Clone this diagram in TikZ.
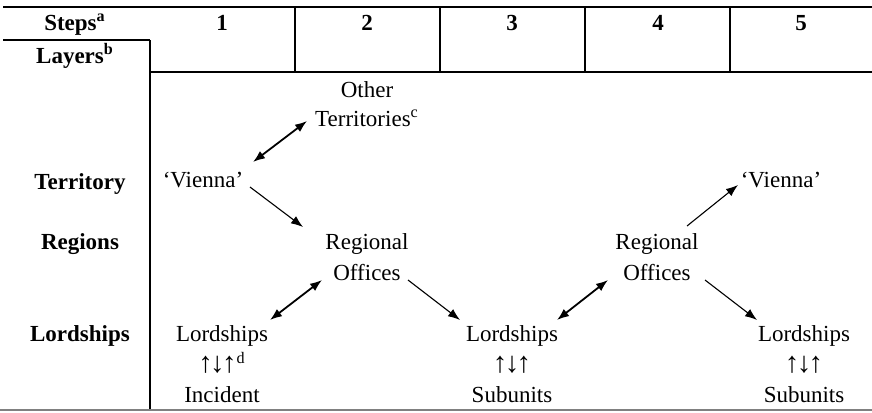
\documentclass[tikz,border=0pt]{standalone}
\usepackage{fontspec}
\setmainfont{Liberation Serif}
\usetikzlibrary{arrows.meta,calc}
\newcommand{\uduarrows}{{\fontsize{14.5}{15}\selectfont ↑\kern-1.3pt↓\kern-1.3pt↑}}
\begin{document}
\begin{tikzpicture}[x=0.5pt,y=-0.5pt,
  txt/.style={inner sep=0pt,anchor=base,font=\fontsize{11.5}{15}\selectfont},
  hdr/.style={txt,font=\fontsize{11.5}{15}\selectfont\bfseries},
  rule/.style={line width=1pt},
  one/.style={line width=0.55pt,-{Latex[length=6pt,width=4.5pt]}},
  two/.style={line width=0.9pt,{Latex[length=6pt,width=4.5pt]}-{Latex[length=6pt,width=4.5pt]}}]
\useasboundingbox (0,0) rectangle (872,412);
% table rules
\draw[rule] (3,7) -- (872,7);
\draw[rule] (3,40) -- (150,40);
\draw[rule] (150,40) -- (150,410);
\draw[rule] (150,72) -- (872,72);
\foreach \x in {295,440,585,730} \draw[rule] (\x,7) -- (\x,72);
\draw[line width=0.8pt,black!50] (0,410) -- (872,410);
% header
\node[hdr] (steps) at (75,30) {Steps\textsuperscript{a}};
\node[hdr] (layers) at (75,63) {Layers\textsuperscript{b}};
\node[hdr] (h1) at (222,30) {1};
\node[hdr] (h2) at (367,30) {2};
\node[hdr] (h3) at (512,30) {3};
\node[hdr] (h4) at (658,30) {4};
\node[hdr] (h5) at (801,30) {5};
% row labels
\node[hdr] (territory) at (80,189) {Territory};
\node[hdr] (regions) at (80,249) {Regions};
\node[hdr] (lordshipsrow) at (80,341) {Lordships};
% body
\node[txt] (other) at (367,97) {Other};
\node[txt] (terr) at (367,126) {Territories\textsuperscript{c}};
\node[txt] (v1) at (203,187) {`Vienna'};
\node[txt] (reg2) at (367,249) {Regional};
\node[txt] (off2) at (367,280) {Offices};
\node[txt] (lord1) at (222,341) {Lordships};
\node[txt] (arr1) at (222,372) {\uduarrows\textsuperscript{d}};
\node[txt] (inc1) at (222,402) {Incident};
\node[txt] (lord3) at (512,341) {Lordships};
\node[txt] (arr3) at (512,372) {\uduarrows};
\node[txt] (sub3) at (512,402) {Subunits};
\node[txt] (reg4) at (657,249) {Regional};
\node[txt] (off4) at (657,280) {Offices};
\node[txt] (v5) at (781,187) {`Vienna'};
\node[txt] (lord5) at (804,341) {Lordships};
\node[txt] (arr5) at (804,372) {\uduarrows};
\node[txt] (sub5) at (804,402) {Subunits};
% connectors
\draw[two] ($(v1.base)+(50,-25)$) -- ($(terr.base)+(-60,-5)$);
\draw[one] ($(v1.base)+(47,0)$) -- ($(reg2.base)+(-64,-22)$);
\draw[two] ($(lord1.base)+(48,-21)$) -- ($(off2.base)+(-45,0)$);
\draw[one] ($(off2.base)+(41,0)$) -- ($(lord3.base)+(-52,-21)$);
\draw[two] ($(lord3.base)+(45,-21)$) -- ($(off4.base)+(-49,0)$);
\draw[one] ($(off4.base)+(48,0)$) -- ($(lord5.base)+(-47,-21)$);
\draw[one] ($(reg4.base)+(30,-23)$) -- ($(v5.base)+(-43,-2)$);
\end{tikzpicture}
\end{document}
